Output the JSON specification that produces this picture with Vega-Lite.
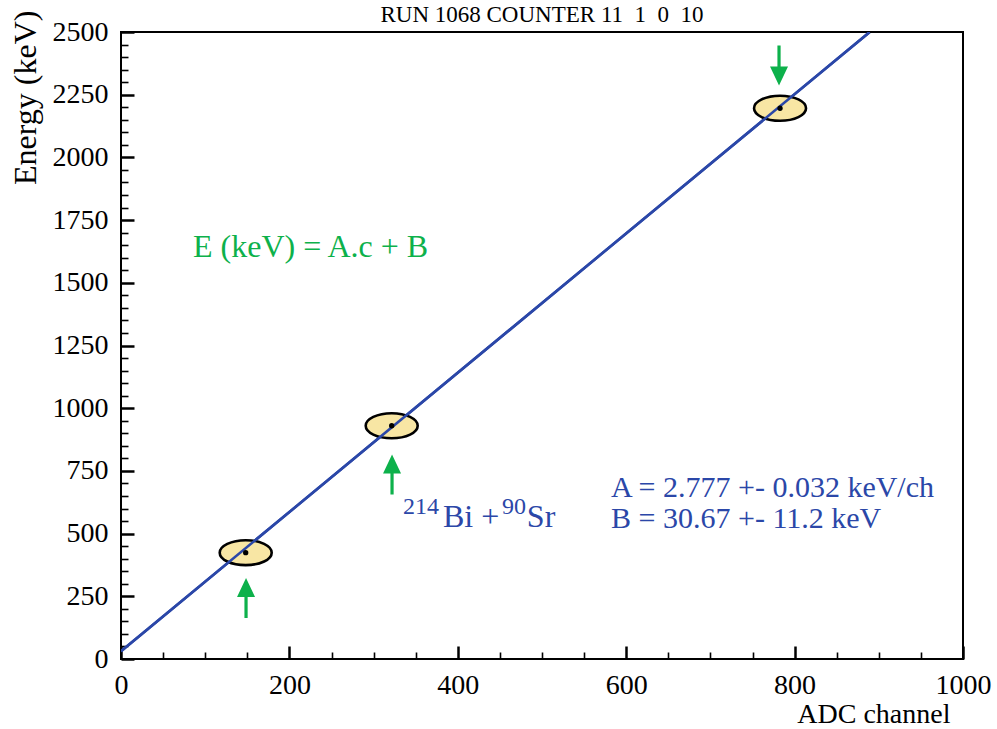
{
  "$schema": "https://vega.github.io/schema/vega-lite/v6.json",
  "width": 842,
  "height": 627,
  "autosize": {"type": "none"},
  "padding": {"left": 121, "top": 32, "right": 34, "bottom": 70},
  "background": "white",
  "config": {
    "view": {"stroke": "black", "strokeWidth": 2},
    "font": "Liberation Serif"
  },
  "title": {
    "text": "RUN 1068 COUNTER 11\u00a0 1\u00a0 0\u00a0 10",
    "fontSize": 23,
    "font": "Liberation Serif",
    "fontWeight": "normal",
    "color": "black",
    "anchor": "middle",
    "offset": 7,
    "dy": 24
  },
  "datasets": {
    "fit": [{"c": 0, "E": 30.67}, {"c": 889, "E": 2499.4}],
    "peaks": [{"c": 148.1, "E": 424}, {"c": 321.5, "E": 930}, {"c": 782.7, "E": 2196}],
    "up": [{"c": 148.5, "E": 243}, {"c": 321.9, "E": 736}],
    "down": [{"c": 781.5, "E": 2366}],
    "eq": [{"c": 85.5, "E": 1643, "t": "E (keV) = A.c + B"}],
    "pars": [{"c": 582, "E": 646, "t": "A = 2.777 +- 0.032 keV/ch"}, {"c": 582, "E": 522, "t": "B = 30.67 +- 11.2 keV"}],
    "main": [{"c": 382.4, "E": 526, "t": "Bi +"}, {"c": 482, "E": 526, "t": "Sr"}],
    "sup": [{"c": 335, "E": 578, "t": "214"}, {"c": 452.5, "E": 578, "t": "90"}]
  },
  "resolve": {"axis": {"x": "independent", "y": "independent"}},
  "layer": [
    {
      "data": {"name": "fit"},
      "mark": {"type": "line", "color": "#2b47a8", "strokeWidth": 2.6, "clip": true},
      "encoding": {
        "x": {
          "field": "c", "type": "quantitative",
          "scale": {"domain": [0, 1000], "nice": false, "zero": false},
          "axis": {
            "orient": "bottom", "values": [0, 200, 400, 600, 800, 1000], "format": "d",
            "domain": false, "grid": false, "tickSize": -13, "tickWidth": 2.5, "tickColor": "black",
            "labelFont": "Liberation Serif", "labelFontSize": 28, "labelColor": "black", "labelPadding": 25,
            "labelFlush": false,
            "title": "ADC channel", "titleFont": "Liberation Serif", "titleFontSize": 28, "titleFontWeight": "normal",
            "titleColor": "black", "titleX": 829, "titleY": 55, "titleAlign": "right", "titleBaseline": "middle"
          }
        },
        "y": {
          "field": "E", "type": "quantitative",
          "scale": {"domain": [0, 2500], "nice": false, "zero": false},
          "axis": {
            "orient": "left", "values": [0, 250, 500, 750, 1000, 1250, 1500, 1750, 2000, 2250, 2500], "format": "d",
            "domain": false, "grid": false, "tickSize": -13, "tickWidth": 2.5, "tickColor": "black",
            "labelFont": "Liberation Serif", "labelFontSize": 28, "labelColor": "black", "labelPadding": 26,
            "labelFlush": false,
            "title": "Energy (keV)", "titleFont": "Liberation Serif", "titleFontSize": 32, "titleFontWeight": "normal",
            "titleColor": "black", "titleAngle": -90, "titleX": -96, "titleY": -22, "titleAlign": "right", "titleBaseline": "middle"
          }
        }
      }
    },
    {
      "data": {"name": "peaks"},
      "mark": {"type": "point", "shape": "M -1 0 A 1 0.48 0 1 0 1 0 A 1 0.48 0 1 0 -1 0 Z", "size": 2704, "filled": true, "fill": "#f8e6a4", "stroke": "black", "strokeWidth": 2.6, "opacity": 1},
      "encoding": {
        "x": {
          "field": "c", "type": "quantitative",
          "axis": {
            "orient": "bottom", "values": [50, 100, 150, 250, 300, 350, 450, 500, 550, 650, 700, 750, 850, 900, 950],
            "domain": false, "grid": false, "labels": false, "tickSize": -7, "tickWidth": 1.6, "tickColor": "black", "title": null
          }
        },
        "y": {
          "field": "E", "type": "quantitative",
          "axis": {
            "orient": "left", "values": [50, 100, 150, 200, 300, 350, 400, 450, 550, 600, 650, 700, 800, 850, 900, 950, 1050, 1100, 1150, 1200, 1300, 1350, 1400, 1450, 1550, 1600, 1650, 1700, 1800, 1850, 1900, 1950, 2050, 2100, 2150, 2200, 2300, 2350, 2400, 2450],
            "domain": false, "grid": false, "labels": false, "tickSize": -7, "tickWidth": 1.6, "tickColor": "black", "title": null
          }
        }
      }
    },
    {
      "data": {"name": "fit"},
      "mark": {"type": "line", "color": "#2b47a8", "strokeWidth": 2.6, "clip": true},
      "encoding": {
        "x": {"field": "c", "type": "quantitative", "axis": null},
        "y": {"field": "E", "type": "quantitative", "axis": null}
      }
    },
    {
      "data": {"name": "peaks"},
      "mark": {"type": "point", "shape": "circle", "size": 28, "filled": true, "color": "black", "opacity": 1},
      "encoding": {
        "x": {"field": "c", "type": "quantitative", "axis": null},
        "y": {"field": "E", "type": "quantitative", "axis": null}
      }
    },
    {
      "data": {"name": "up"},
      "mark": {"type": "point", "shape": "M 0 -1 L 0.45 -0.05 L 0.08 -0.05 L 0.08 1 L -0.08 1 L -0.08 -0.05 L -0.45 -0.05 Z", "size": 1600, "filled": true, "color": "#0db14b", "opacity": 1, "strokeWidth": 0},
      "encoding": {
        "x": {"field": "c", "type": "quantitative", "axis": null},
        "y": {"field": "E", "type": "quantitative", "axis": null}
      }
    },
    {
      "data": {"name": "down"},
      "mark": {"type": "point", "shape": "M 0 1 L 0.45 0.05 L 0.08 0.05 L 0.08 -1 L -0.08 -1 L -0.08 0.05 L -0.45 0.05 Z", "size": 1600, "filled": true, "color": "#0db14b", "opacity": 1, "strokeWidth": 0},
      "encoding": {
        "x": {"field": "c", "type": "quantitative", "axis": null},
        "y": {"field": "E", "type": "quantitative", "axis": null}
      }
    },
    {
      "data": {"name": "eq"},
      "mark": {"type": "text", "align": "left", "baseline": "middle", "font": "Liberation Serif", "fontSize": 32, "color": "#0db14b"},
      "encoding": {
        "x": {"field": "c", "type": "quantitative", "axis": null},
        "y": {"field": "E", "type": "quantitative", "axis": null},
        "text": {"field": "t"}
      }
    },
    {
      "data": {"name": "pars"},
      "mark": {"type": "text", "align": "left", "baseline": "alphabetic", "font": "Liberation Serif", "fontSize": 30, "color": "#2b47a8"},
      "encoding": {
        "x": {"field": "c", "type": "quantitative", "axis": null},
        "y": {"field": "E", "type": "quantitative", "axis": null},
        "text": {"field": "t"}
      }
    },
    {
      "data": {"name": "main"},
      "mark": {"type": "text", "align": "left", "baseline": "alphabetic", "font": "Liberation Serif", "fontSize": 32, "color": "#2b47a8"},
      "encoding": {
        "x": {"field": "c", "type": "quantitative", "axis": null},
        "y": {"field": "E", "type": "quantitative", "axis": null},
        "text": {"field": "t"}
      }
    },
    {
      "data": {"name": "sup"},
      "mark": {"type": "text", "align": "left", "baseline": "alphabetic", "font": "Liberation Serif", "fontSize": 24, "color": "#2b47a8"},
      "encoding": {
        "x": {"field": "c", "type": "quantitative", "axis": null},
        "y": {"field": "E", "type": "quantitative", "axis": null},
        "text": {"field": "t"}
      }
    }
  ]
}
